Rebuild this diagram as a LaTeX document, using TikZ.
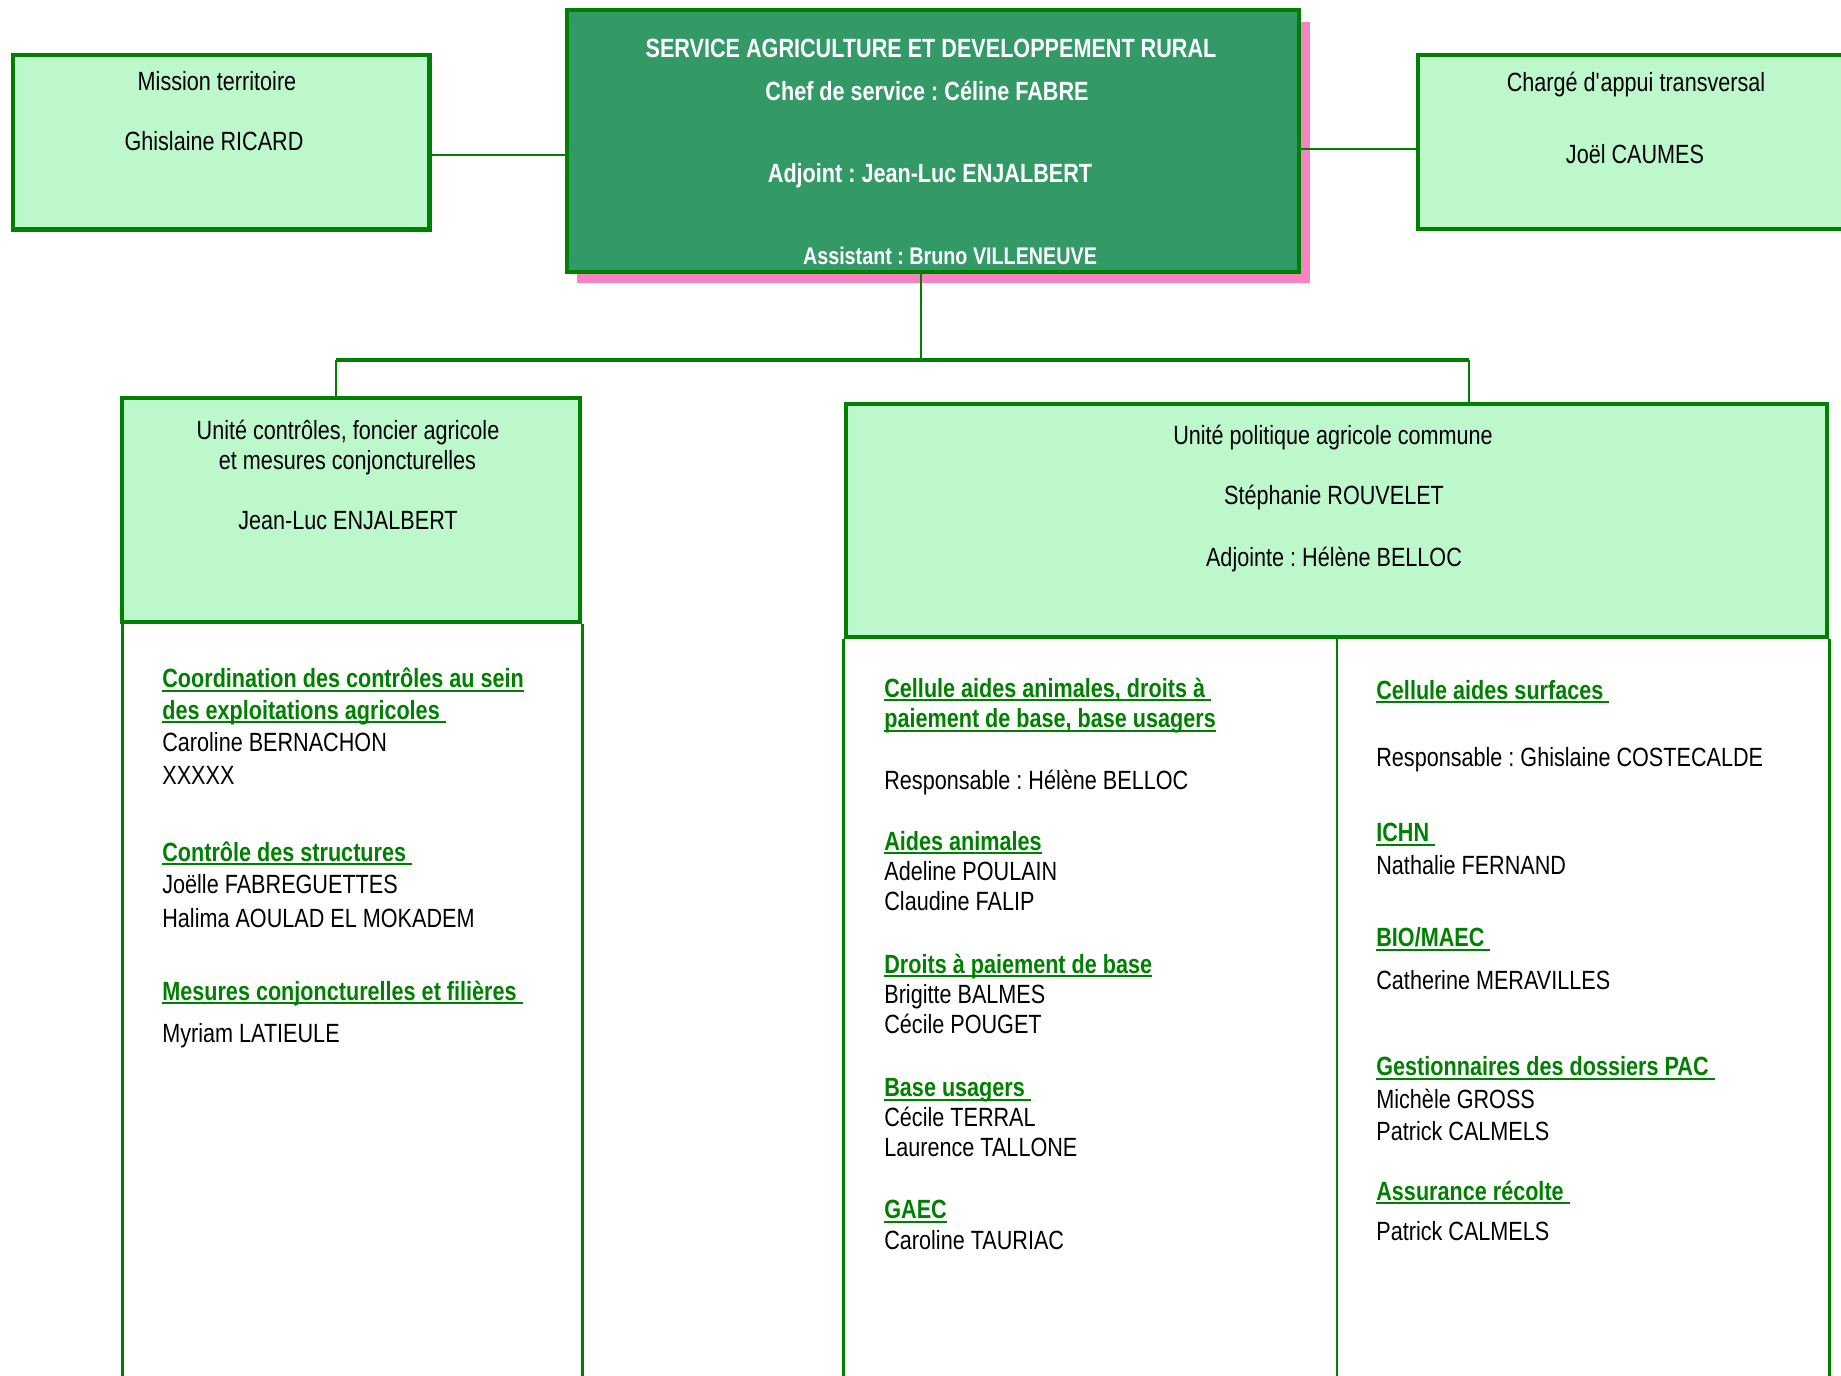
\documentclass[tikz,border=0pt]{standalone}
\usepackage{fontspec}
\setmainfont{Liberation Sans}[FakeStretch=0.82]
\usetikzlibrary{calc}
\usetikzlibrary{positioning}
\usetikzlibrary{fit}
\definecolor{vertclair}{HTML}{BDF8CC}
\definecolor{vertfonce}{HTML}{008000}
\definecolor{vertservice}{HTML}{339966}
\definecolor{roseombre}{HTML}{F783C1}
\newcommand{\rubrique}[1]{\textcolor{vertfonce}{\bfseries\setbox0\hbox{#1}\rlap{\rule[-2.3pt]{\wd0}{0.9pt}}\box0}}
\frenchspacing

\begin{document}
\begin{tikzpicture}[x=0.02cm,y=-0.02cm,font=\fontsize{15}{18}\selectfont]
		\tikzset{
			cadre/.style={draw=vertfonce,line width=2.5pt,fill=vertclair,inner sep=0pt},
			lien/.style={draw=vertfonce,line width=1.1pt},
			bus/.style={draw=vertfonce,line width=2.2pt},
			colonne/.style={draw=vertfonce,line width=1.5pt},
			titre/.style={inner sep=0pt,anchor=base,yshift=-0.18cm},
			ligne/.style={inner sep=0pt,anchor=base west,yshift=-0.18cm},
			blanc/.style={titre,text=white,font=\fontsize{15}{18}\selectfont\bfseries}
		}
		\useasboundingbox (0,0) rectangle (1841,1375);
		
		% boites du haut
		\fill[roseombre] (577,22) rectangle (1310,283);
		\node[cadre,fill=vertservice,fit={(567,10)(1299,272)}] (service) {};
		\node[cadre,fit={(13,55)(429.5,229.5)}] (mission) {};
		\node[cadre,fit={(1418,55)(1870,229)}] (appui) {};
		
		\node[blanc] (s1) at (931,49) {SERVICE AGRICULTURE ET DEVELOPPEMENT RURAL};
		\node[blanc] (s2) at (927,92) {Chef de service : Céline FABRE};
		\node[blanc] (s3) at (930,174) {Adjoint : Jean-Luc ENJALBERT};
		\node[blanc,font=\fontsize{13.7}{16}\selectfont\bfseries] (s4) at (950,256) {Assistant : Bruno VILLENEUVE};
		
		\node[titre] (m1) at (217,82) {Mission territoire};
		\node[titre] (m2) at (214,142) {Ghislaine RICARD};
		\node[titre] (a1) at (1636,83) {Chargé d\textquotesingle appui transversal};
		\node[titre] (a2) at (1635,155) {Joël CAUMES};
		
		\draw[lien] (mission.east |- 0,155) -- (service.west |- 0,155);
		\draw[lien] (service.east |- 0,149) -- (appui.west |- 0,149);
		
		% unites
		\node[cadre,fit={(122,398)(580,622)}] (ucontrole) {};
		\node[cadre,fit={(846,404)(1827,637)}] (upac) {};
		
		\node[titre] (c1) at (348,430) {Unité contrôles, foncier agricole};
		\node[titre] (c2) at (347.5,460) {et mesures conjoncturelles};
		\node[titre] (c3) at (348,520) {Jean-Luc ENJALBERT};
		\node[titre] (p1) at (1333,435) {Unité politique agricole commune};
		\node[titre] (p2) at (1334,495) {Stéphanie ROUVELET};
		\node[titre] (p3) at (1334,557) {Adjointe : Hélène BELLOC};
		
		\coordinate (busL) at (336,360);
		\coordinate (busM) at (921,360);
		\coordinate (busR) at (1469,360);
		\draw[lien] (service.south -| busM) -- (busM);
		\draw[bus] (busL) -- (busR);
		\draw[lien] (busL) -- (ucontrole.north -| busL);
		\draw[lien] (busR) -- (upac.north -| busR);
		
		% colonnes
		\coordinate (bas) at (0,1380);
		\coordinate (sep) at (1337,637);
		\draw[colonne] ([xshift=0.06cm]ucontrole.south west) -- ([xshift=0.06cm]ucontrole.south west |- bas);
		\draw[colonne] (ucontrole.south east) -- (ucontrole.south east |- bas);
		\draw[colonne] (upac.south west) -- (upac.south west |- bas);
		\draw[colonne] (upac.south east) -- (upac.south east |- bas);
		\draw[colonne] (sep) -- (sep |- bas);
		
		\foreach \y/\t [count=\i] in {678.6/{\rubrique{Coordination des contrôles au sein}},
			710/{\rubrique{des exploitations agricoles\ }},
			742/{Caroline BERNACHON},
			775.5/{XXXXX},
			852/{\rubrique{Contrôle des structures\ }},
			884/{Joëlle FABREGUETTES},
			918/{Halima AOULAD EL MOKADEM},
			991/{\rubrique{Mesures conjoncturelles et filières\ }},
			1033/{Myriam LATIEULE}}
		\node[ligne] (gauche\i) at (162,\y) {\t};
		
		\foreach \y/\t [count=\i] in {688/{\rubrique{Cellule aides animales, droits à\ }},
			718.5/{\rubrique{paiement de base, base usagers}},
			780/{Responsable : Hélène BELLOC},
			841/{\rubrique{Aides animales}},
			871.5/{Adeline POULAIN},
			901.7/{Claudine FALIP},
			964/{\rubrique{Droits à paiement de base}},
			994/{Brigitte BALMES},
			1024.5/{Cécile POUGET},
			1087.5/{\rubrique{Base usagers\ }},
			1117/{Cécile TERRAL},
			1147.5/{Laurence TALLONE},
			1209.5/{\rubrique{GAEC}},
			1240/{Caroline TAURIAC}}
		\node[ligne] (milieu\i) at (884,\y) {\t};
		
		\foreach \y/\t [count=\i] in {690/{\rubrique{Cellule aides surfaces\ }},
			757/{Responsable : Ghislaine COSTECALDE},
			832.5/{\rubrique{ICHN\ }},
			865/{Nathalie FERNAND},
			937.7/{\rubrique{BIO/MAEC\ }},
			980.5/{Catherine MERAVILLES},
			1066.5/{\rubrique{Gestionnaires des dossiers PAC\ }},
			1099.5/{Michèle GROSS},
			1131.8/{Patrick CALMELS},
			1191/{\rubrique{Assurance récolte\ }},
			1231.7/{Patrick CALMELS}}
		\node[ligne] (droite\i) at (1376,\y) {\t};
		
\end{tikzpicture}
\end{document}
